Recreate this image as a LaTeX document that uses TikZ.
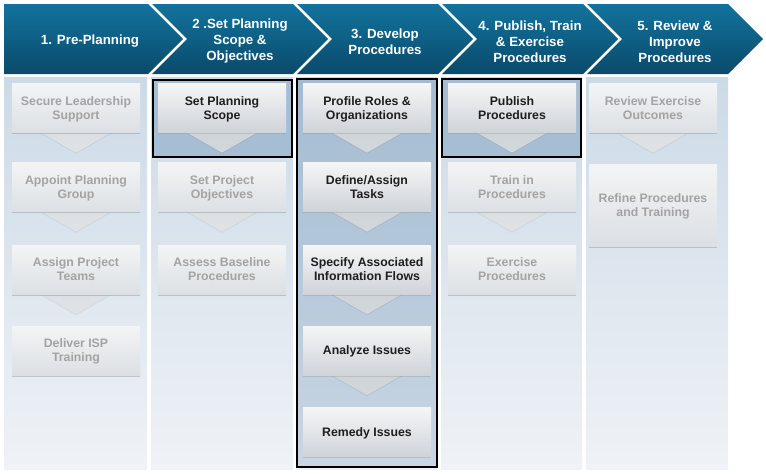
\documentclass[tikz,border=0pt]{standalone}
\usepackage{fontspec}
\setmainfont{Liberation Sans}
\usepackage{xcolor}
\usepackage{tikz}
\usetikzlibrary{
    positioning,
    calc,
    shadows,
    backgrounds
}
\definecolor{ispheadtop}{HTML}{12739D}
\definecolor{ispheadbot}{HTML}{0A4A6B}
\definecolor{ispcoltop}{HTML}{CCDAE7}
\definecolor{ispcolbot}{HTML}{EFF2F6}
\definecolor{ispactivetop}{HTML}{A3BBD2}
\definecolor{ispactivebot}{HTML}{C9D6E3}
\definecolor{isphilite}{HTML}{A6BED4}
\definecolor{ispboxtop}{HTML}{F5F5F6}
\definecolor{ispboxbot}{HTML}{CFD4D9}
\definecolor{ispfadetop}{HTML}{F3F4F5}
\definecolor{ispfadebot}{HTML}{DCE0E4}
\definecolor{isptext}{HTML}{1E1E1E}
\definecolor{ispfadetext}{HTML}{A3A3A3}
\pgfdeclarelayer{pointers}
\pgfsetlayers{background,pointers,main}
\tikzset{
    % Header chevron
    headchevron/.style={
        top color=ispheadtop,
        bottom color=ispheadbot
    },
    % Header text
    headtext/.style={
        text=white,
        font=\fontsize{13.3}{16}\selectfont\bfseries,
        align=center
    },
    % Column background
    colback/.style={
        top color=ispcoltop,
        bottom color=ispcolbot
    },
    % Current step frame
    stepframe/.style={
        draw=black,
        line width=1.6pt
    },
    % Current step box
    stepbox/.style={
        rectangle,
        top color=ispboxtop,
        bottom color=ispboxbot,
        minimum width=128pt,
        minimum height=49pt,
        inner sep=0pt,
        text depth=-1.5pt,
        align=center,
        text=isptext,
        font=\fontsize{12.3}{14}\selectfont\bfseries,
        drop shadow={shadow xshift=0pt, shadow yshift=-1.5pt, opacity=0.25}
    },
    % Faded step box
    fadebox/.style={
        stepbox,
        top color=ispfadetop,
        bottom color=ispfadebot,
        text=ispfadetext,
        drop shadow={shadow xshift=0pt, shadow yshift=-1.5pt, opacity=0.15}
    },
    % Pointers under the boxes
    steppointer/.style={
        top color=ispboxbot,
        bottom color=ispboxbot!92!white,
        drop shadow={shadow xshift=0pt, shadow yshift=-1pt, opacity=0.2}
    },
    fadepointer/.style={
        top color=ispfadebot,
        bottom color=ispfadebot!92!white,
        drop shadow={shadow xshift=0pt, shadow yshift=-1pt, opacity=0.15}
    }
}
\newcommand{\boxpointer}[2]{%
    \begin{pgfonlayer}{pointers}
    \shade[#2] ([xshift=-35pt]#1.south) -- ([xshift=35pt]#1.south) -- ([yshift=-20pt]#1.south) -- cycle;
    \end{pgfonlayer}}

\begin{document}
\begin{tikzpicture}[x=1pt, y=-1pt]

    \useasboundingbox (0,0) rectangle (766,474);

    % Header chevrons
    \shade[headchevron] (4,4) -- (148,4) -- (183,39) -- (148,74) -- (4,74) -- cycle;
    \shade[headchevron] (152,4) -- (293,4) -- (328,39) -- (293,74) -- (152,74) -- (187,39) -- cycle;
    \shade[headchevron] (297,4) -- (438,4) -- (473,39) -- (438,74) -- (297,74) -- (332,39) -- cycle;
    \shade[headchevron] (442,4) -- (583,4) -- (618,39) -- (583,74) -- (442,74) -- (477,39) -- cycle;
    \shade[headchevron] (587,4) -- (728,4) -- (763,39) -- (728,74) -- (587,74) -- (622,39) -- cycle;

    % Header labels
    \node[headtext] (h1) at (90,41.5) {1. Pre-Planning};
    \node[headtext] (h2) at (240,41.5) {2 .Set Planning\\Scope \&\\Objectives};
    \node[headtext] (h3) at (385,42) {3. Develop\\Procedures};
    \node[headtext] (h4) at (530,41.5) {4. Publish, Train\\\& Exercise\\Procedures};
    \node[headtext] (h5) at (675,41.5) {5. Review \&\\Improve\\Procedures};

    % Column backgrounds
    \begin{pgfonlayer}{background}
    \shade[colback] (4,77) rectangle (147,469);
    \shade[colback] (151,77) rectangle (293,469);
    \shade[colback] (296,77) rectangle (437,469);
    \shade[colback] (441,77) rectangle (582,469);
    \shade[colback] (586,77) rectangle (728,469);
    % Current steps
    \fill[isphilite] (153,80) rectangle (292,157);
    \shade[top color=ispactivetop, bottom color=ispactivebot] (297,79) rectangle (437,467);
    \fill[isphilite] (442,79) rectangle (581,157);
    \end{pgfonlayer}
    \draw[stepframe] (153,80) rectangle (292,157);
    \draw[stepframe] (297,79) rectangle (437,467);
    \draw[stepframe] (442,79) rectangle (581,157);

    % Pre-Planning boxes
    \node[fadebox] (pp1) at (76,108) {Secure Leadership\\Support};
    \node[fadebox] (pp2) at (76,187) {Appoint Planning\\Group};
    \node[fadebox] (pp3) at (76,269.5) {Assign Project\\Teams};
    \node[fadebox] (pp4) at (76,350.5) {Deliver ISP\\Training};
    \boxpointer{pp1}{fadepointer}
    \boxpointer{pp2}{fadepointer}
    \boxpointer{pp3}{fadepointer}

    % Scope boxes
    \node[stepbox] (sc1) at (222,108) {Set Planning\\Scope};
    \node[fadebox] (sc2) at (222,187) {Set Project\\Objectives};
    \node[fadebox] (sc3) at (222,269.5) {Assess Baseline\\Procedures};
    \boxpointer{sc1}{steppointer}
    \boxpointer{sc2}{fadepointer}

    % Develop boxes
    \node[stepbox] (dv1) at (367,108) {Profile Roles \&\\Organizations};
    \node[stepbox] (dv2) at (367,187) {Define/Assign\\Tasks};
    \node[stepbox] (dv3) at (367,269.5) {Specify Associated\\Information Flows};
    \node[stepbox] (dv4) at (367,350.5) {Analyze Issues};
    \node[stepbox] (dv5) at (367,432) {Remedy Issues};
    \boxpointer{dv1}{steppointer}
    \boxpointer{dv2}{steppointer}
    \boxpointer{dv3}{steppointer}
    \boxpointer{dv4}{steppointer}

    % Publish boxes
    \node[stepbox] (pb1) at (512,108) {Publish\\Procedures};
    \node[fadebox] (pb2) at (512,187) {Train in\\Procedures};
    \node[fadebox] (pb3) at (512,269.5) {Exercise\\Procedures};
    \boxpointer{pb1}{steppointer}
    \boxpointer{pb2}{fadepointer}

    % Review boxes
    \node[fadebox] (rv1) at (653,108) {Review Exercise\\Outcomes};
    \node[fadebox, minimum height=82pt] (rv2) at (653,205) {Refine Procedures\\and Training};
    \boxpointer{rv1}{fadepointer}

\end{tikzpicture}
\end{document}
